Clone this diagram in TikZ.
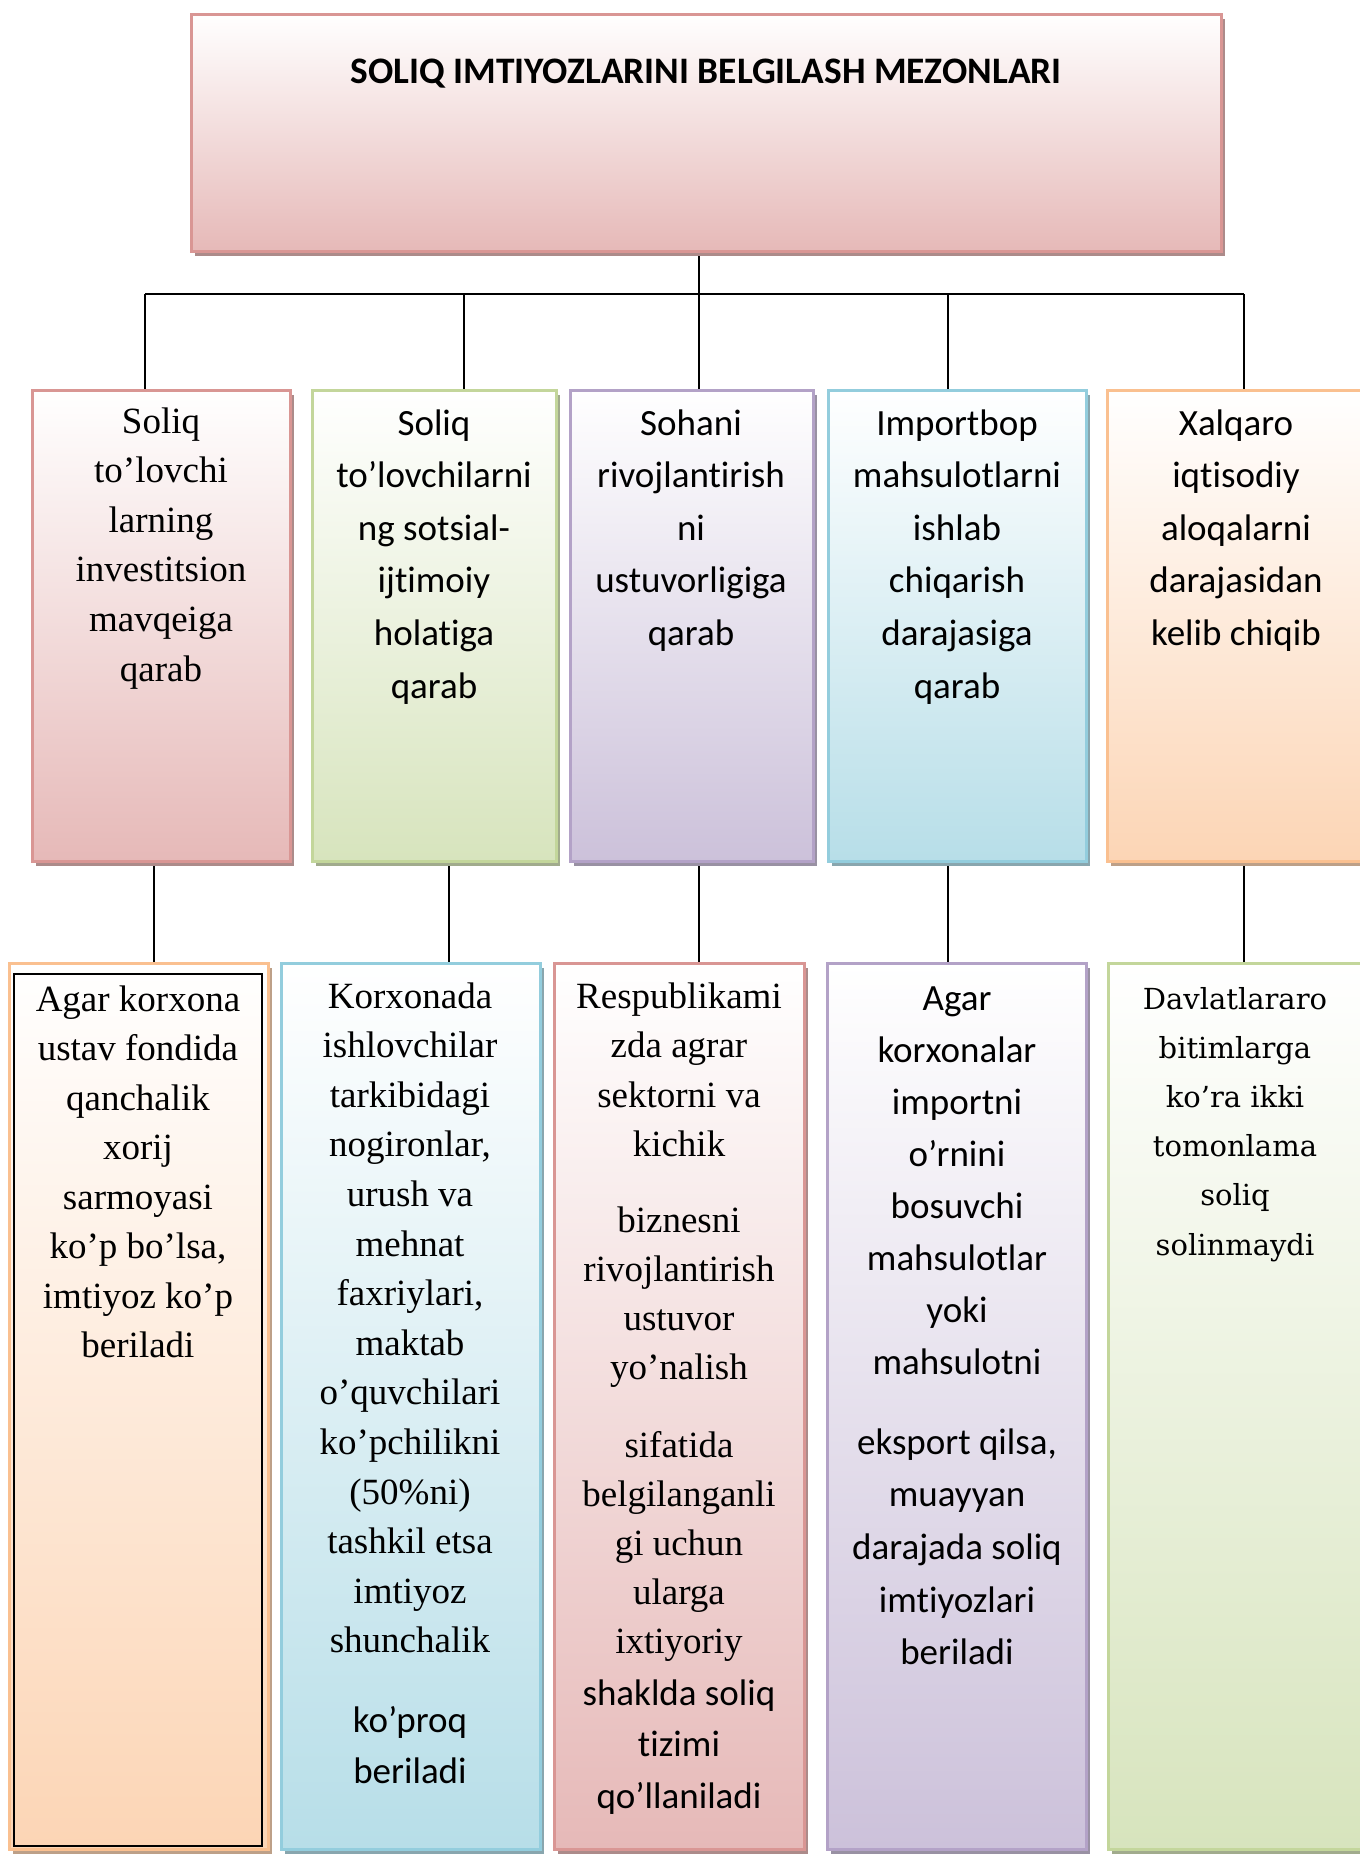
\documentclass[tikz,border=0pt]{standalone}
\usepackage{fontspec}
\setmainfont{Liberation Serif}
\newfontfamily\fSans[Ligatures=NoCommon]{Carlito}
\newfontfamily\fWide{DejaVu Serif}
\usetikzlibrary{shadows,backgrounds}

% border / fill colour pairs
\definecolor{redB}{HTML}{D99694}\definecolor{redF}{HTML}{E6B9B8}
\definecolor{grnB}{HTML}{C3D69B}\definecolor{grnF}{HTML}{D7E4BD}
\definecolor{purB}{HTML}{B3A2C7}\definecolor{purF}{HTML}{CCC1DA}
\definecolor{bluB}{HTML}{93CDDD}\definecolor{bluF}{HTML}{B7DEE8}
\definecolor{ornB}{HTML}{FAC090}\definecolor{ornF}{HTML}{FCD5B5}

\tikzset{
  box/.style={rectangle, draw=#1B, line width=1.5pt, inner sep=0pt, outer sep=0pt,
    anchor=north west, top color=white, bottom color=#1F, middle color=#1F!50!white,
    general shadow={fill=#1B!50!gray, shadow xshift=2pt, shadow yshift=-2.5pt}},
  link/.style={line width=1pt, draw=black},
  % #1 family, #2 baselineskip (pt), #3 size (pt); node placed by first baseline
  para/.style n args={3}{anchor=north, align=center, inner sep=0pt, outer sep=0pt,
    yshift={0.7*#2pt}, font=#1\fontsize{#3pt}{#2pt}\selectfont},
}

\begin{document}
\begin{tikzpicture}[x=0.5pt,y=-0.5pt]
\useasboundingbox (0,0) rectangle (1360,1854);
\clip (0,0) rectangle (1360,1854);

% heading box
\node[box=red, minimum width=515pt, minimum height=118.5pt] (top) at (191,14) {};
\node[anchor=base, inner sep=0pt, font=\fSans\bfseries\fontsize{18.7pt}{22pt}\selectfont]
  (title) at (706,83) {SOLIQ IMTIYOZLARINI BELGILASH MEZONLARI};

% criteria row
\node[box=red, minimum width=129pt,   minimum height=235.5pt] (m1) at (32,390) {};
\node[box=grn, minimum width=122pt,   minimum height=235.5pt] (m2) at (312,390) {};
\node[box=pur, minimum width=121.5pt, minimum height=235.5pt] (m3) at (570,390) {};
\node[box=blu, minimum width=129pt,   minimum height=235.5pt] (m4) at (828,390) {};
\node[box=orn, minimum width=130pt,   minimum height=235.5pt] (m5) at (1107,390) {};

\node[para={\rmfamily}{24.8}{18.5}] (m1t) at (161,433)
  {\strut Soliq\\to’lovchi\\larning\\investitsion\\mavqeiga\\qarab};
\node[para={\fSans}{26.3}{18.5}] (m2t) at (434,435)
  {\strut Soliq\\to’lovchilarni\\ng sotsial-\\ijtimoiy\\holatiga\\qarab};
\node[para={\fSans}{26.3}{18.5}] (m3t) at (691,435)
  {\strut Sohani\\rivojlantirish\\ni\\ustuvorligiga\\qarab};
\node[para={\fSans}{26.3}{18.5}] (m4t) at (957,435)
  {\strut Importbop\\mahsulotlarni\\ishlab\\chiqarish\\darajasiga\\qarab};
\node[para={\fSans}{26.3}{18.5}] (m5t) at (1236,435)
  {\strut Xalqaro\\iqtisodiy\\aloqalarni\\darajasidan\\kelib chiqib};

% explanation row
\node[box=orn, minimum width=129.5pt, minimum height=443pt] (l1) at (9,963) {};
\node[box=blu, minimum width=129.5pt, minimum height=443pt] (l2) at (281,963) {};
\node[box=red, minimum width=125pt,   minimum height=443pt] (l3) at (554,963) {};
\node[box=pur, minimum width=129.5pt, minimum height=443pt] (l4) at (827,963) {};
\node[box=grn, minimum width=130pt,   minimum height=443pt] (l5) at (1108,963) {};
\draw[line width=1.3pt] (14,974) rectangle (262,1846);

\node[para={\rmfamily}{24.75}{18.5}] (l1t) at (138,1011)
  {\strut Agar korxona\\ustav fondida\\qanchalik\\xorij\\sarmoyasi\\ko’p bo’lsa,\\imtiyoz ko’p\\beriladi};

\node[para={\rmfamily}{24.8}{18.5}] (l2a) at (410,1008)
  {\strut Korxonada\\ishlovchilar\\tarkibidagi\\nogironlar,\\urush va\\mehnat\\faxriylari,\\maktab\\o’quvchilari\\ko’pchilikni\\(50\%ni)\\tashkil etsa\\imtiyoz\\shunchalik};
\node[para={\fSans}{25.5}{18.5}] (l2b) at (410,1732)
  {\strut ko’proq\\beriladi};

\node[para={\rmfamily}{24.8}{18.5}] (l3a) at (679,1008)
  {\strut Respublikami\\zda agrar\\sektorni va\\kichik};
\node[para={\rmfamily}{24.65}{18.5}] (l3b) at (679,1232)
  {\strut biznesni\\rivojlantirish\\ustuvor\\yo’nalish};
\node[para={\rmfamily}{24.5}{18.5}] (l3c) at (679,1457)
  {\strut sifatida\\belgilanganli\\gi uchun\\ularga\\ixtiyoriy};
\node[para={\fSans}{25.75}{18.5}] (l3d) at (679,1705)
  {\strut shaklda soliq\\tizimi\\qo’llaniladi};

\node[para={\fSans}{26.05}{18.5}] (l4a) at (957,1010)
  {\strut Agar\\korxonalar\\importni\\o’rnini\\bosuvchi\\mahsulotlar\\yoki\\mahsulotni};
\node[para={\fSans}{26.35}{18.5}] (l4b) at (957,1454)
  {\strut eksport qilsa,\\muayyan\\darajada soliq\\imtiyozlari\\beriladi};

\node[para={\fWide}{24.6}{14.5}] (l5t) at (1235,1009)
  {\strut Davlatlararo\\bitimlarga\\ko’ra ikki\\tomonlama\\soliq\\solinmaydi};

% connectors
\begin{scope}[on background layer]
  \coordinate (b1) at (145,294);
  \coordinate (b2) at (464,294);
  \coordinate (b3) at (699,294);
  \coordinate (b4) at (948,294);
  \coordinate (b5) at (1244,294);
  \draw[link] (top.south -| b3) -- (b3);
  \draw[link] (b1) -- (b5);
  \draw[link] (b1) -- (b1 |- m1.north);
  \draw[link] (b2) -- (b2 |- m2.north);
  \draw[link] (b3) -- (b3 |- m3.north);
  \draw[link] (b4) -- (b4 |- m4.north);
  \draw[link] (b5) -- (b5 |- m5.north);

  \coordinate (d1) at (154,900);
  \coordinate (d2) at (449,900);
  \coordinate (d3) at (699,900);
  \coordinate (d4) at (948,900);
  \coordinate (d5) at (1244,900);
  \draw[link] (d1 |- m1.south) -- (d1 |- l1.north);
  \draw[link] (d2 |- m2.south) -- (d2 |- l2.north);
  \draw[link] (d3 |- m3.south) -- (d3 |- l3.north);
  \draw[link] (d4 |- m4.south) -- (d4 |- l4.north);
  \draw[link] (d5 |- m5.south) -- (d5 |- l5.north);
\end{scope}
\end{tikzpicture}
\end{document}
